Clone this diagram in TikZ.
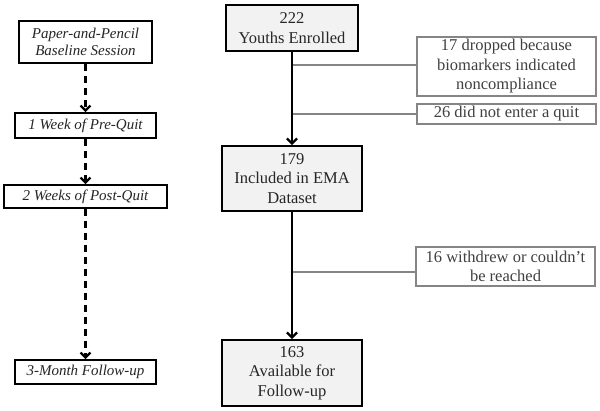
\documentclass[tikz,border=0pt]{standalone}
\usepackage{fontspec}
\setmainfont{Liberation Serif}
\usetikzlibrary{arrows.meta}
\definecolor{boxfill}{HTML}{F2F2F2}
\definecolor{linegray}{HTML}{858585}
\definecolor{sidetext}{HTML}{404040}
\tikzset{
  mainbox/.style={draw=black, line width=1.8pt, fill=boxfill, align=center, inner sep=0pt, text=black!85, font=\fontsize{16.5}{19.5}\selectfont},
  sidebox/.style={draw=linegray, line width=1.3pt, fill=white, align=center, inner sep=0pt, text=sidetext, font=\fontsize{16.5}{19.5}\selectfont},
  phasebox/.style={draw=black, line width=1.6pt, fill=white, align=center, inner sep=0pt, text=black!85, font=\fontsize{15}{17}\selectfont\itshape},
  mainarrow/.style={draw=black, line width=2.3pt, -{Straight Barb[length=5pt,width=10pt,line width=2.3pt]}},
  dasharrow/.style={draw=black, line width=2.3pt, dash pattern=on 7.5pt off 4.5pt, -{Straight Barb[length=5pt,width=10pt,line width=2.3pt]}},
  branch/.style={draw=linegray, line width=2pt}
}
\begin{document}
\begin{tikzpicture}[x=1pt,y=-1pt]
\useasboundingbox (0,0) rectangle (600,410);
% right column
\node[mainbox, minimum width=132pt, minimum height=46pt] (A) at (292,28) {222\\Youths Enrolled};
\node[sidebox, minimum width=179pt, minimum height=59pt] (B) at (506.5,66.5) {17 dropped because\\biomarkers indicated\\noncompliance};
\node[sidebox, minimum width=179pt, minimum height=20pt] (C) at (506.5,114) {26 did not enter a quit};
\node[mainbox, minimum width=140pt, minimum height=65pt] (D) at (292,178.5) {179\\Included in EMA\\Dataset};
\node[sidebox, minimum width=179pt, minimum height=39pt] (E) at (505.5,266.5) {16 withdrew or couldn’t\\be reached};
\node[mainbox, minimum width=140pt, minimum height=66pt] (F) at (292,373) {163\\Available for\\Follow-up};
% left column
\node[phasebox, minimum width=133pt, minimum height=42pt] (L1) at (85.5,42) {Paper-and-Pencil\\Baseline Session};
\node[phasebox, minimum width=141pt, minimum height=25pt] (L2) at (85.5,125.5) {1 Week of Pre-Quit};
\node[phasebox, minimum width=163pt, minimum height=23pt] (L3) at (85.5,196.5) {2 Weeks of Post-Quit};
\node[phasebox, minimum width=141pt, minimum height=24pt] (L4) at (85.5,372) {3-Month Follow-up};
% branches
\coordinate (bB) at ([yshift=1.5pt]B.west);
\coordinate (bE) at ([yshift=-5pt]E.west);
\draw[branch] (bB) -- (bB -| A.south);
\draw[branch] (C.west) -- (C.west -| A.south);
\draw[branch] (bE) -- (bE -| D.south);
% main arrows
\draw[mainarrow] (A) -- (D);
\draw[mainarrow] (D) -- (F);
% dashed arrows
\draw[dasharrow] (L1) -- (L2);
\draw[dasharrow] (L2) -- (L3);
\draw[dasharrow] (L3) -- (L4);
\end{tikzpicture}
\end{document}
